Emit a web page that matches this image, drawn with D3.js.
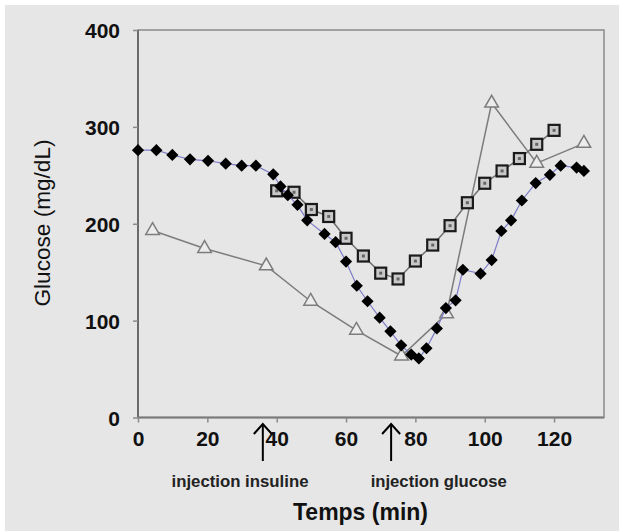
<!DOCTYPE html>
<html>
<head>
<meta charset="utf-8">
<script src="https://cdn.jsdelivr.net/npm/d3@7"></script>
<style>
  html, body { margin: 0; padding: 0; background: #ffffff; }
  svg { display: block; }
</style>
</head>
<body>
<svg id="chart" width="619" height="531"></svg>
<script>
// ---- data ----
const diamondX = [0,5.3,9.9,15,20.2,25.3,29.9,34,39,41.1,43.2,46,48.8,53.8,57,60,63.1,66.2,69.7,72.8,75.9,78.8,81,83.2,86.2,88.8,91.6,93.7,98.8,102,104.8,107.6,110.7,114.7,118.8,121.9,126.5,128.6];
const diamondY = [276,276,271,266.5,265,262,260,260,251,238.5,229.5,219.5,203.5,189.5,181,161,136,120,103,89,74.5,65,61,71.5,92,113,121,152.5,148.5,162.5,192.5,203.5,224,242,250.5,260,258,254.5];
const squareX = [40,45,50,55,60,65,70,75,80,85,90,95,100,105,110,115,120];
const squareY = [234,232.5,214.7,207.5,185,166.7,149,143,161.5,178,198,221.7,241.8,254.5,267.3,282,296.4];
const triangleX = [4.2,19.2,37,49.8,63,76,89,102,115,128.6];
const triangleY = [193,174.5,156.5,120,90,63.5,107,324.5,262.5,283];
const xTicks = [0,20,40,60,80,100,120];
const yTicks = [0,100,200,300,400];
const annotations = [{x: 36, label: "injection insuline"}, {x: 73, label: "injection glucose"}];
const xTitle = "Temps (min)";
const yTitle = "Glucose (mg/dL)";

const svg = d3.select("#chart");
const W = 619, H = 531;
const FONT = "'Liberation Sans', Arial, sans-serif";

// page background (gray with thin white strip top/left)
svg.append("rect").attr("x", 5).attr("y", 5).attr("width", W - 5).attr("height", H - 5).attr("fill", "#e6e6e6");

const x = d3.scaleLinear().domain([0, 134.4]).range([138, 604]);
const y = d3.scaleLinear().domain([0, 400]).range([417.5, 30]);

// frame
const frame = svg.append("g");
frame.append("rect")
  .attr("x", x(0)).attr("y", y(400))
  .attr("width", x(134.4) - x(0)).attr("height", y(0) - y(400))
  .attr("fill", "none").attr("stroke", "#8a8a8a").attr("stroke-width", 1.5);
frame.append("line").attr("x1", x(0)).attr("x2", x(0)).attr("y1", y(400)).attr("y2", y(0))
  .attr("stroke", "#6a6a6a").attr("stroke-width", 2);
frame.append("line").attr("x1", x(0)).attr("x2", x(134.4)).attr("y1", y(0)).attr("y2", y(0))
  .attr("stroke", "#7a7a7a").attr("stroke-width", 2);

// axes
const yAxis = d3.axisLeft(y).tickValues(yTicks).tickSize(5).tickPadding(13);
const gy = svg.append("g").attr("transform", `translate(${x(0)},0)`).call(yAxis);
gy.select(".domain").remove();
gy.selectAll(".tick line").attr("stroke", "#8a8a8a").attr("stroke-width", 1.5);
gy.selectAll(".tick text").attr("font-family", FONT).attr("font-size", 21).attr("fill", "#111")
  .attr("font-weight", "bold").attr("dy", "0.36em");

const xAxis = d3.axisBottom(x).tickValues(xTicks).tickSize(5).tickPadding(9);
const gx = svg.append("g").attr("transform", `translate(0,${y(0)})`).call(xAxis);
gx.select(".domain").remove();
gx.selectAll(".tick line").attr("stroke", "#8a8a8a").attr("stroke-width", 1.5);
gx.selectAll(".tick text").attr("font-family", FONT).attr("font-size", 21).attr("fill", "#111")
  .attr("font-weight", "bold");

// lines
const line = d3.line().x(d => x(d[0])).y(d => y(d[1]));
const triData = triangleX.map((v, i) => [v, triangleY[i]]);
const sqData = squareX.map((v, i) => [v, squareY[i]]);
const diaData = diamondX.map((v, i) => [v, diamondY[i]]);

svg.append("path").datum(triData).attr("d", line).attr("fill", "none")
  .attr("stroke", "#7c7c7c").attr("stroke-width", 1.5);
svg.selectAll(".tri").data(triData).enter().append("path")
  .attr("class", "tri")
  .attr("transform", d => `translate(${x(d[0])},${y(d[1])})`)
  .attr("d", d3.symbol().type(d3.symbolTriangle).size(80))
  .attr("fill", "#ececec").attr("stroke", "#7c7c7c").attr("stroke-width", 1.5);

svg.append("path").datum(sqData).attr("d", line).attr("fill", "none")
  .attr("stroke", "#707070").attr("stroke-width", 1.5);
const sq = svg.selectAll(".sq").data(sqData).enter().append("g")
  .attr("class", "sq")
  .attr("transform", d => `translate(${x(d[0])},${y(d[1])})`);
sq.append("rect").attr("x", -5.5).attr("y", -5.5).attr("width", 11).attr("height", 11)
  .attr("fill", "#c8c8c8").attr("stroke", "#1a1a1a").attr("stroke-width", 2.2);
sq.append("rect").attr("x", -1.5).attr("y", -1.5).attr("width", 3).attr("height", 3).attr("fill", "#666");

svg.append("path").datum(diaData).attr("d", line).attr("fill", "none")
  .attr("stroke", "#7c7cc8").attr("stroke-width", 1.2);
svg.selectAll(".dia").data(diaData).enter().append("path")
  .attr("class", "dia")
  .attr("transform", d => `translate(${x(d[0])},${y(d[1])})`)
  .attr("d", d3.symbol().type(d3.symbolDiamond2).size(95))
  .attr("fill", "#000");

// annotations (arrows + labels)
annotations.forEach(a => {
  const ax = x(a.x);
  const g = svg.append("g").attr("stroke", "#000").attr("stroke-width", 2).attr("fill", "none");
  g.append("line").attr("x1", ax).attr("x2", ax).attr("y1", 424).attr("y2", 461);
  g.append("path").attr("d", `M${ax - 9},${434} L${ax},${424} L${ax + 9},${434}`);
});
svg.append("text").attr("x", 240).attr("y", 487).attr("text-anchor", "middle")
  .attr("font-family", FONT).attr("font-weight", "bold").attr("font-size", 16).attr("fill", "#222")
  .attr("textLength", 137).attr("lengthAdjust", "spacingAndGlyphs").text(annotations[0].label);
svg.append("text").attr("x", 438.7).attr("y", 487).attr("text-anchor", "middle")
  .attr("font-family", FONT).attr("font-weight", "bold").attr("font-size", 16).attr("fill", "#222")
  .attr("textLength", 136).attr("lengthAdjust", "spacingAndGlyphs").text(annotations[1].label);

// titles
svg.append("text").attr("x", 360.5).attr("y", 520).attr("text-anchor", "middle")
  .attr("font-family", FONT).attr("font-weight", "bold").attr("font-size", 24).attr("fill", "#111")
  .attr("textLength", 135).attr("lengthAdjust", "spacingAndGlyphs").text(xTitle);
svg.append("text").attr("transform", "translate(49.5,223) rotate(-90)").attr("text-anchor", "middle")
  .attr("font-family", FONT).attr("font-size", 22).attr("fill", "#111")
  .attr("textLength", 167).attr("lengthAdjust", "spacingAndGlyphs").text(yTitle);
</script>
</body>
</html>
